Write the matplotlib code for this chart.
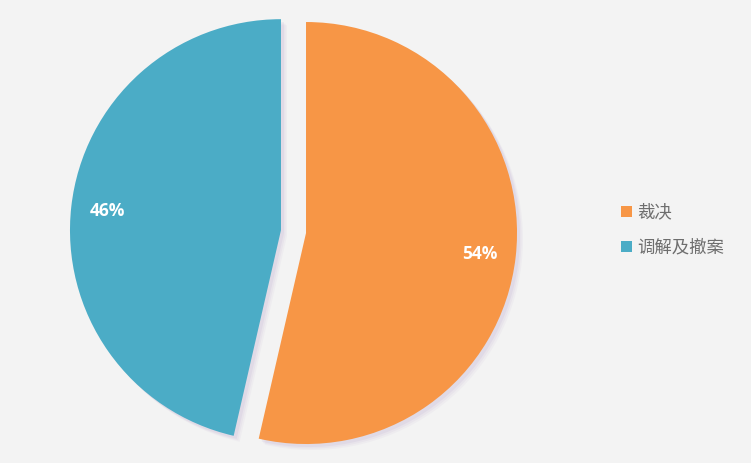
import matplotlib
matplotlib.use("Agg")
import matplotlib.pyplot as plt
from matplotlib.patches import Rectangle

labels = ['裁决', '调解及撤案']
values = [53.6, 46.4]
colors = ['#F79646', '#4BACC6']

W, H = 751, 464
fig = plt.figure(figsize=(W / 100, H / 100), dpi=100)
fig.patch.set_facecolor('#F3F3F3')
ax = fig.add_axes([0, 0, 1, 1])

cx, cy, R = 293.5, H - 232.6, 211
explode = [12.6, 12.6]

# soft shadow
for ox, oy, a in [(6, -6, 0.08), (4.5, -4.5, 0.10), (3, -3, 0.14)]:
    ax.pie(values, radius=R, center=(cx + ox, cy + oy), startangle=90,
           counterclock=False, explode=explode,
           colors=['#B49FCB'] * 2,
           wedgeprops=dict(alpha=a, linewidth=0), frame=True)

wedges, texts, autotexts = ax.pie(
    values, radius=R, center=(cx, cy), startangle=90, counterclock=False,
    explode=explode, colors=colors, autopct='%1.0f%%', pctdistance=0.83,
    wedgeprops=dict(linewidth=0), frame=True,
    textprops=dict(color='white', fontsize=12.5, fontweight='bold',
                   family=['Open Sans', 'DejaVu Sans']))
ax.set_xlim(0, W)
ax.set_ylim(0, H)
ax.set_aspect('equal')
ax.axis('off')

# legend
fy = [H - 212, H - 247]
for lab, col, y in zip(labels, colors, fy):
    ax.add_patch(Rectangle((621, y - 5.5), 11, 11, facecolor=col, edgecolor='none'))
    ax.text(637, y, lab, va='center', ha='left', fontsize=12.5, color='#6E6E6E',
            family=['Noto Sans CJK SC', 'DejaVu Sans'])

fig.savefig('out.png', dpi=100, facecolor=fig.get_facecolor())
